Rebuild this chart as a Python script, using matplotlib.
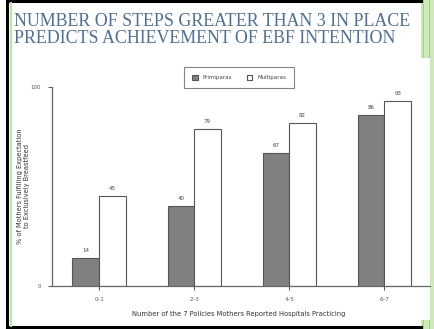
import numpy as np
import matplotlib.pyplot as plt
from matplotlib.lines import Line2D
from matplotlib.patches import Rectangle

groups = ["0\u20131", "2\u20133", "4\u20135", "6\u20137"]
primiparas = [14, 40, 67, 86]
multiparas = [45, 79, 82, 93]

W, H = 435, 329
fig = plt.figure(figsize=(4.35, 3.29), dpi=100)

def fx(px):
    return px / W

def fy(py):
    return 1 - py / H

# slide frame
fig.add_artist(Rectangle((fx(421), 0), fx(14), 1, color="#cfe9bd", lw=0, zorder=-5))
fig.add_artist(Line2D([fx(423), fx(423)], [0, 1], color="#9fd27f", lw=0.8, zorder=-4))
fig.add_artist(Line2D([fx(429), fx(429)], [0, 1], color="#9fd27f", lw=0.8, zorder=-4))
fig.add_artist(Line2D([fx(7), fx(421)], [fy(1), fy(1)], color="black", lw=2.2, zorder=-3))
fig.add_artist(Line2D([fx(7), fx(421)], [fy(327), fy(327)], color="black", lw=2.2, zorder=-3))
fig.add_artist(Line2D([fx(7), fx(7)], [fy(1), fy(327)], color="black", lw=2.2, zorder=-3))
fig.add_artist(Line2D([fx(11.5), fx(11.5)], [fy(3), fy(326)], color="#bfe3a8", lw=1.5, zorder=-3))
# chart image background
fig.add_artist(Rectangle((fx(13), fy(320)), fx(417), fy(58) - fy(320), color="white", lw=0, zorder=-2))

fig.text(fx(14), fy(30), "NUMBER OF STEPS GREATER THAN 3 IN PLACE\nPREDICTS ACHIEVEMENT OF EBF INTENTION",
         family="Liberation Serif", fontsize=12.9, color="#4d6e9b", va="center", ha="left",
         linespacing=1.05)

ax = fig.add_axes([fx(52), fy(286), fx(430) - fx(52), fy(87) - fy(286)])
ax.patch.set_alpha(0)
x = np.arange(len(groups))
w = 0.28
ax.bar(x - w / 2, primiparas, w, color="#808080", edgecolor="#555555", lw=0.8, label="Primiparas")
ax.bar(x + w / 2, multiparas, w, color="white", edgecolor="#555555", lw=0.8, label="Multiparas")
for i in range(len(groups)):
    ax.text(x[i] - w / 2, primiparas[i] + 2.5, str(primiparas[i]), ha="center", va="bottom",
            fontsize=4, color="#444444")
    ax.text(x[i] + w / 2, multiparas[i] + 2.5, str(multiparas[i]), ha="center", va="bottom",
            fontsize=4, color="#444444")

ax.set_xlim(-0.495, 3.48)
ax.set_ylim(0, 100)
ax.set_yticks([0, 100])
ax.set_xticks(x)
ax.set_xticklabels(groups)
ax.tick_params(axis="both", labelsize=4, colors="#555555", length=3, width=0.7, pad=5)
for s in ["top", "right"]:
    ax.spines[s].set_visible(False)
for s in ["left", "bottom"]:
    ax.spines[s].set_color("#666666")
    ax.spines[s].set_linewidth(0.9)

ax.set_xlabel("Number of the 7 Policies Mothers Reported Hospitals Practicing", fontsize=4.9,
              color="#333333")
ax.xaxis.set_label_coords(0.495, -0.126)
ax.set_ylabel("% of Mothers Fulfilling Expectation\nto Exclusively Breastfeed", fontsize=4.8,
              color="#333333", linespacing=1.3)
ax.yaxis.set_label_coords(-0.058, 0.5)

leg = ax.legend(loc="center", bbox_to_anchor=(0.495, 1.048), ncol=2, fontsize=4.0, frameon=True,
                fancybox=False, edgecolor="#666666", handlelength=1.0, handleheight=1.0,
                columnspacing=2.6, borderpad=1.4, handletextpad=0.9, borderaxespad=0)
leg.get_frame().set_linewidth(0.8)
for t in leg.get_texts():
    t.set_color("#444444")

fig.savefig("out.png", dpi=100)
